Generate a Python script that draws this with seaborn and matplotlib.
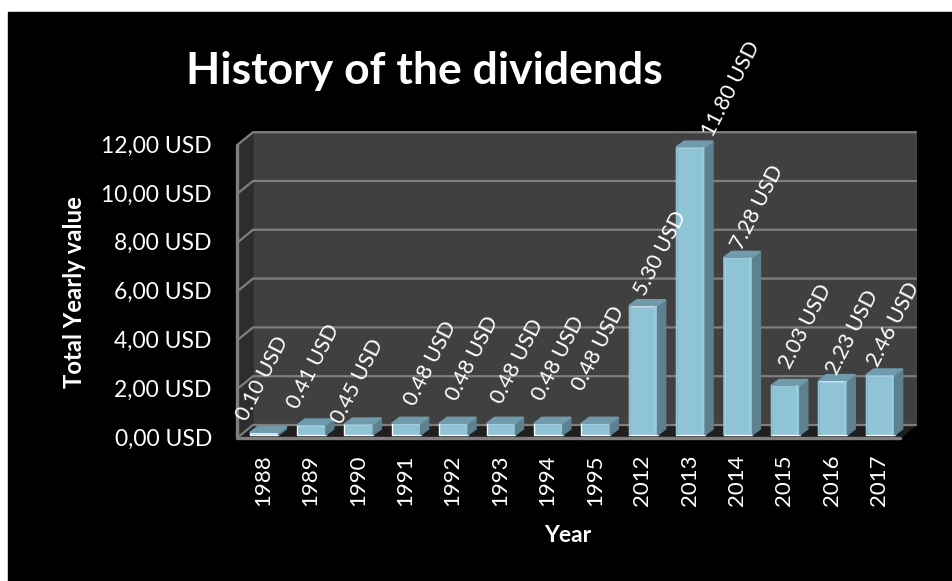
import matplotlib.pyplot as plt
import pandas as pd
import seaborn as sns
from matplotlib.patches import Polygon, Rectangle
from matplotlib.transforms import ScaledTranslation

years = ['1988', '1989', '1990', '1991', '1992', '1993', '1994', '1995',
         '2012', '2013', '2014', '2015', '2016', '2017']
dividends = [0.10, 0.41, 0.45, 0.48, 0.48, 0.48, 0.48, 0.48,
             5.30, 11.80, 7.28, 2.03, 2.23, 2.46]
value_labels = ['0.10 USD', '0.41 USD', '0.45 USD', '0.48 USD', '0.48 USD', '0.48 USD', '0.48 USD',
                '0.48 USD', '5.30 USD', '11.80 USD', '7.28 USD', '2.03 USD', '2.23 USD', '2.46 USD']
y_ticks = [0, 2, 4, 6, 8, 10, 12]
y_tick_labels = ['0,00 USD', '2,00 USD', '4,00 USD', '6,00 USD', '8,00 USD', '10,00 USD', '12,00 USD']

# label nudges in pixels, the reference places them by hand
label_dx = [-17, -13, -17, 9, 3, 1, -5, -13, 2, 22, 4, 5, 4, -2]
label_dy = [11, 15, -1, 16, 21, 18, 21, 31, 9, 9, 6, 15, 5, 7]

W, H = 953, 581
PX_X, PX_Y = 47.4, 24.4
DEPTH_X, DEPTH_Y = 16 / PX_X, 13 / PX_Y
BAR_X, BAR_Y = 8 / PX_X, 6 / PX_Y

sns.set_theme(style='dark')
plt.rcParams['font.family'] = ['Lato', 'DejaVu Sans']

df = pd.DataFrame({'year': years, 'value': dividends})

fig = plt.figure(figsize=(W / 100, H / 100), dpi=100, facecolor='white')
fig.add_artist(Rectangle((8 / W, 0), 1, 1 - 12 / H, transform=fig.transFigure, color='black', zorder=-5))

ax = fig.add_axes([237 / W, (H - 438) / H, 680 / W, 306 / H])
ax.patch.set_visible(False)
for s in ax.spines.values():
    s.set_visible(False)

sns.barplot(data=df, x='year', y='value', color='#8fc3d6', saturation=1, width=0.61, ax=ax, zorder=4)

x0 = -27 / PX_X
x1 = (900 - 264) / PX_X
y0 = -3 / PX_Y
y1 = 12.0 + y0
ax.set_xlim(x0, x0 + 680 / PX_X)
ax.set_ylim(y0, y0 + 306 / PX_Y)

# back wall, side wall and floor
ax.add_patch(Polygon([(x0 + DEPTH_X, y0 + DEPTH_Y), (x1 + DEPTH_X, y0 + DEPTH_Y),
                      (x1 + DEPTH_X, y1 + DEPTH_Y), (x0 + DEPTH_X, y1 + DEPTH_Y)], color='#404040', zorder=1))
ax.add_patch(Polygon([(x0, y0), (x0 + DEPTH_X, y0 + DEPTH_Y), (x0 + DEPTH_X, y1 + DEPTH_Y), (x0, y1)],
                     color='#2d2d2d', zorder=1))
ax.add_patch(Polygon([(x0, y0), (x1, y0), (x1 + DEPTH_X, y0 + DEPTH_Y), (x0 + DEPTH_X, y0 + DEPTH_Y)],
                     color='#1f1f1f', zorder=1))

grid = '#7f7f7f'
for t in y_ticks:
    ax.plot([x0, x0 + DEPTH_X, x1 + DEPTH_X], [t + y0, t + y0 + DEPTH_Y, t + y0 + DEPTH_Y],
            color=grid, lw=1.6, zorder=2, solid_joinstyle='miter', clip_on=False)
ax.plot([x0, x0, x1], [y1, y0, y0], color=grid, lw=2.4, zorder=3, clip_on=False)

# 3d sides and sheen of the bars
for bar in ax.patches[:len(years)]:
    l, w, h = bar.get_x(), bar.get_width(), bar.get_height()
    r = l + w
    ax.add_patch(Polygon([(r, 0), (r + BAR_X, BAR_Y), (r + BAR_X, h + BAR_Y), (r, h)], color='#5e808f', zorder=4))
    ax.add_patch(Polygon([(l, h), (r, h), (r + BAR_X, h + BAR_Y), (l + BAR_X, h + BAR_Y)], color='#6f9bad', zorder=4))
    if h > 1:
        ax.plot([l + 0.02, l + 0.02], [0, h], color='#80b6ca', lw=1.2, zorder=5, solid_capstyle='butt')
        ax.plot([r - 0.05, r - 0.05], [0, h], color='#9ccde0', lw=1.2, zorder=5, solid_capstyle='butt')

ax.set_xticks(range(len(years)))
ax.set_xticklabels(years, rotation=90, color='white', fontsize=16)
ax.set_yticks(y_ticks, labels=y_tick_labels, color='white', fontsize=16.5)
ax.tick_params(axis='both', length=0)
ax.tick_params(axis='x', pad=12)
ax.tick_params(axis='y', pad=18)
ax.grid(False)
ax.set_xlabel('')
ax.set_ylabel('')

for lab in ax.get_yticklabels():
    lab.set_transform(lab.get_transform() + ScaledTranslation(0, -2 / 100, fig.dpi_scale_trans))
for lab in ax.get_xticklabels():
    lab.set_transform(lab.get_transform() + ScaledTranslation(-1 / 100, 0, fig.dpi_scale_trans))

for i, (v, txt) in enumerate(zip(dividends, value_labels)):
    ax.annotate(txt, (i, v), xytext=(label_dx[i], label_dy[i]), textcoords='offset pixels',
                rotation=63, rotation_mode='anchor', ha='left', va='baseline', color='white',
                fontsize=15.5, zorder=6, annotation_clip=False)

fig.text(424 / W, 1 - 71 / H, 'History of the dividends', color='white', fontsize=32, fontweight='bold',
         ha='center', va='center')
fig.text(75 / W, 1 - 292 / H, 'Total Yearly value', color='white', fontsize=17.2, fontweight='bold',
         rotation=90, ha='center', va='center')
fig.text(568 / W, 1 - 535 / H, 'Year', color='white', fontsize=16.5, fontweight='bold', ha='center', va='center')

fig.savefig('out.png', dpi=100, facecolor='white')
